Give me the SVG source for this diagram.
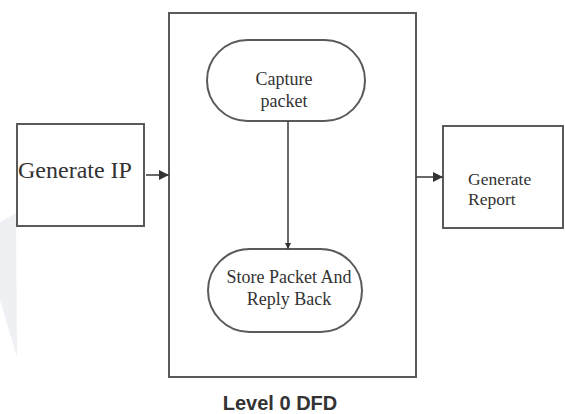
<svg xmlns="http://www.w3.org/2000/svg" width="565" height="414" viewBox="0 0 565 414">
<defs>
<style>
.box{fill:#fff;stroke:#5a5a5a;stroke-width:2}
.t{font-family:"Liberation Serif","Times New Roman",serif;fill:#333}
.c{fill:none;stroke:#444;stroke-width:1.6}
</style>
<marker id="ah" viewBox="0 0 10 10" refX="10" refY="5" markerWidth="6" markerHeight="6" markerUnits="userSpaceOnUse" orient="auto">
<path d="M0,0 L10,5 L0,10 z" fill="#333"/>
</marker>
<marker id="ahl" viewBox="0 0 10 10" refX="10" refY="5" markerWidth="10" markerHeight="10" markerUnits="userSpaceOnUse" orient="auto">
<path d="M0,0 L10,5 L0,10 z" fill="#333"/>
</marker>
</defs>
<rect width="565" height="414" fill="#fff"/>
<polygon points="0,222 16,213 17,357 0,300" fill="#eef0f3"/>
<g id="process-box">
<rect class="box" x="169" y="13" width="247" height="364"/>
</g>
<g id="generate-ip">
<rect class="box" x="17" y="124" width="127" height="102"/>
<text class="t" x="18" y="178" font-size="24">Generate IP</text>
</g>
<g id="capture-packet">
<rect class="box" x="207" y="40" width="158" height="81" rx="40.5" ry="40.5" stroke-width="1.5"/>
<text class="t" x="284" y="85" font-size="18" text-anchor="middle">Capture</text>
<text class="t" x="284" y="107" font-size="18" text-anchor="middle">packet</text>
</g>
<g id="store-packet">
<rect class="box" x="208" y="249" width="154" height="83" rx="41.5" ry="41.5" stroke-width="1.5"/>
<text class="t" x="289" y="283" font-size="18" text-anchor="middle">Store Packet And</text>
<text class="t" x="289" y="305" font-size="18" text-anchor="middle">Reply Back</text>
</g>
<g id="generate-report">
<rect class="box" x="443" y="126" width="120" height="102"/>
<text class="t" x="468" y="185" font-size="17.5">Generate</text>
<text class="t" x="468" y="205" font-size="17.5">Report</text>
</g>
<g id="connectors">
<line class="c" x1="146" y1="175" x2="169" y2="175" marker-end="url(#ahl)"/>
<line class="c" x1="288" y1="121" x2="288" y2="249" marker-end="url(#ah)"/>
<line class="c" x1="416" y1="177" x2="443" y2="177" marker-end="url(#ahl)"/>
</g>
<text x="280" y="410" font-family="'Liberation Sans',Arial,sans-serif" font-weight="bold" font-size="20" fill="#333" text-anchor="middle">Level 0 DFD</text>
</svg>
